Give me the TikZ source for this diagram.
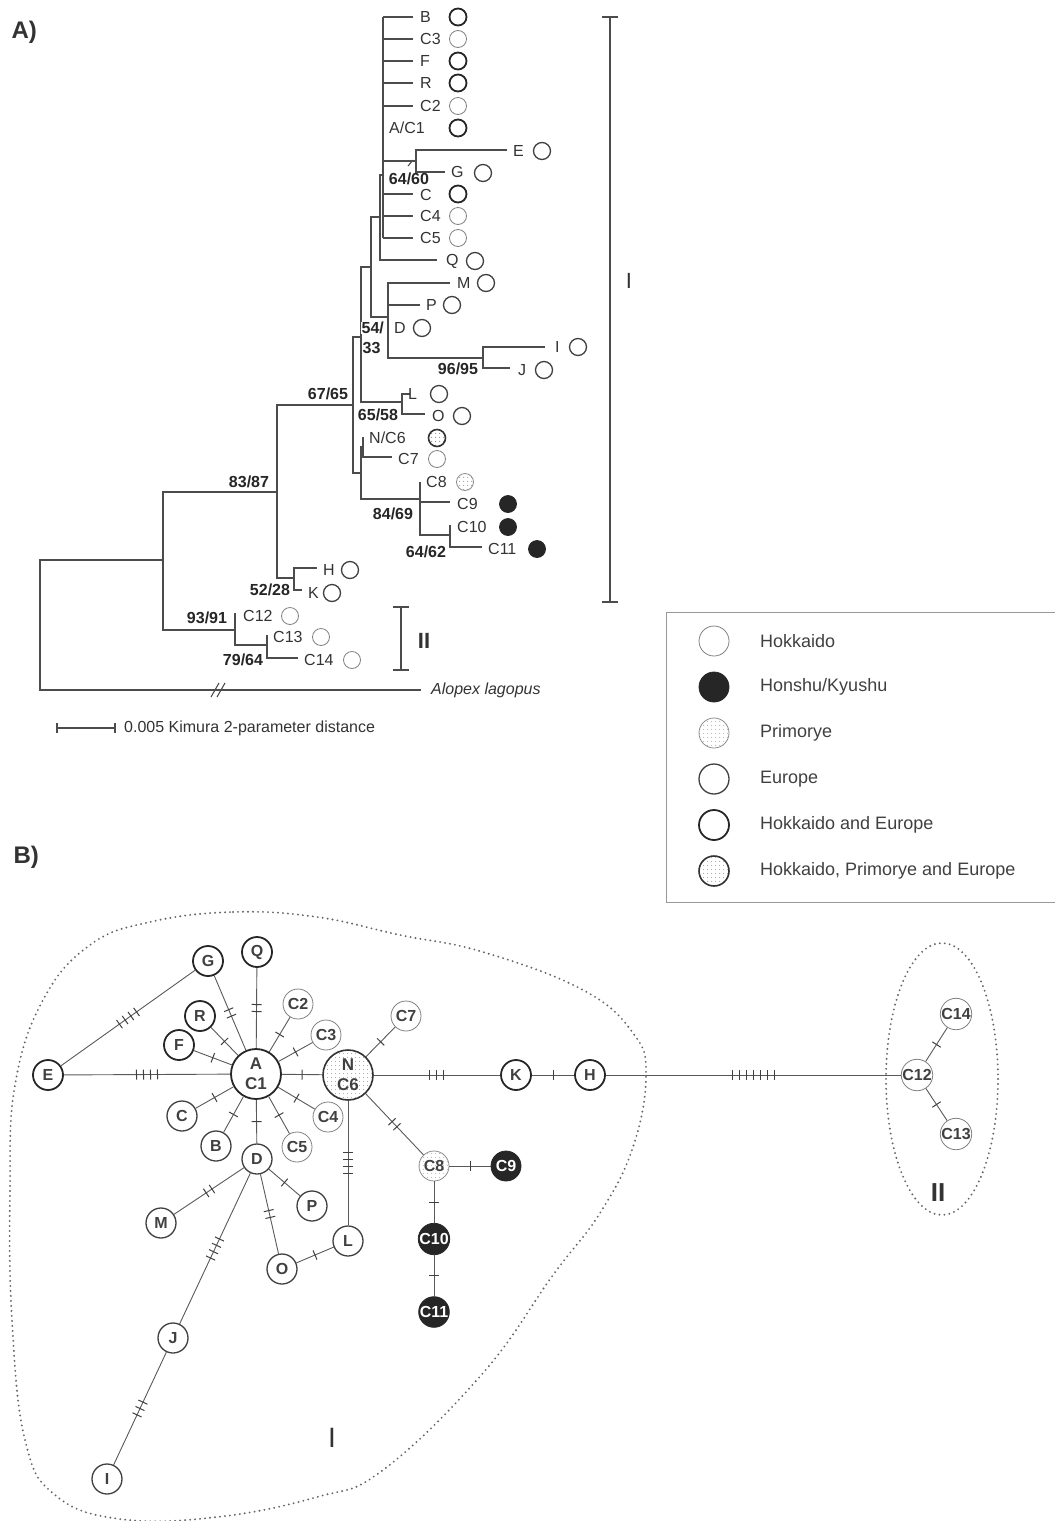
\documentclass[tikz,border=0pt]{standalone}
\usepackage{fontspec}
\setmainfont{Liberation Sans}
\usetikzlibrary{patterns.meta,decorations.markings}

\tikzset{
  br/.style={line width=1.1pt, draw=black!70},
  tiplab/.style={anchor=west, inner sep=0pt, text=black!80, font=\fontsize{16}{18}\selectfont},
  boot/.style={inner sep=1pt, fill=white, text=black!85, font=\fontsize{16}{18}\selectfont\bfseries},
  % regions
  hok/.style={circle, draw=black!50, line width=0.8pt},
  eur/.style={circle, draw=black!75, line width=1.3pt},
  hke/.style={circle, draw=black!85, line width=1.8pt},
  pri/.style={circle, draw=black!45, line width=0.8pt, pattern={Dots[distance=4pt, radius=0.6pt]}, pattern color=black!45},
  hpe/.style={circle, draw=black!80, line width=1.6pt, pattern={Dots[distance=4pt, radius=0.6pt]}, pattern color=black!55},
  hon/.style={circle, draw=black!85, fill=black!85, line width=0.8pt, text=white},
  tipc/.style={minimum size=17pt, inner sep=0pt},
  hap/.style={minimum size=30pt, inner sep=0pt, text=black!75, font=\fontsize{16}{16}\selectfont\bfseries},
  big/.style={minimum size=50pt, inner sep=0pt, align=center, text=black!75, font=\fontsize{17}{20}\selectfont\bfseries},
  leglab/.style={anchor=west, inner sep=0pt, text=black!75, font=\fontsize{18}{20}\selectfont},
  link/.style={line width=0.9pt, draw=black!65},
  muts/.style={postaction={decorate, decoration={markings, mark=at position 0.5 with {\foreach \k in {1,...,#1} {\draw[line width=1pt, black!75] ({(\k-(#1+1)/2)*7pt},-5pt) -- ++(0,10pt);}}}}},
  hull/.style={line width=2.1pt, black!60, line cap=round, dash pattern=on 0pt off 5pt}
}

\begin{document}
\begin{tikzpicture}[x=1pt, y=-1pt]
\useasboundingbox (0,0) rectangle (1055,1521);

% A) tree
\node[anchor=west, text=black!80, font=\fontsize{24}{24}\selectfont\bfseries] (panA) at (8,32) {A)};

\draw[br] (383,17) -- (383,238);
\foreach \y in {17,39,61,83,106,194,216,238} \draw[br] (383,\y) -- (413,\y);
\draw[br] (383,161) -- (416,161);
\draw[br] (507,150) -- (416,150) -- (416,172) -- (445,172);
\draw[br] (408,166) -- (413,160);
\draw[br] (383,175) -- (380,175) -- (380,260) -- (437,260);
\draw[br] (380,217) -| (371,317) -- (388,317);
\draw[br] (450,283) -- (388,283) -- (388,358) -- (483,358);
\draw[br] (388,305) -- (420,305);
\draw[br] (545,347) -- (483,347) -- (483,368) -- (510,368);
\draw[br] (371,267) -| (361,402) -- (402,402);
\draw[br] (410,394) -- (402,394) -- (402,414) -- (425,414);
\draw[br] (361,337) -| (353,473) -- (361,473);
\draw[br] (363,447) -- (361,447) -- (361,499) -- (420,499);
\draw[br] (363,437) -- (363,457) -- (392,457);
\draw[br] (420,482) -- (420,535) -- (450,535);
\draw[br] (420,502) -- (450,502);
\draw[br] (450,525) -- (450,547) -- (482,547);
\draw[br] (353,405) -| (277,578) -- (294,578);
\draw[br] (317,568) -- (294,568) -- (294,590) -- (302,590);
\draw[br] (277,492) -| (163,630) -- (235,630);
\draw[br] (235,613) -- (235,645) -- (267,645);
\draw[br] (267,635) -- (267,658) -- (298,658);
\draw[br] (163,560) -| (40,690) -- (421,690);
\draw[br] (211,697) -- (219,683) (217,697) -- (225,683);

% tips and regions
\foreach \n/\lx/\ly/\cx/\cy/\s in {B/420/17/458/17/hke, C3/420/39/458/39/hok, F/420/61/458/61/hke,
    R/420/83/458/83/hke, C2/420/106/458/106/hok, E/513/151/542/151/eur, G/451/172/483/173/eur,
    C/420/195/458/194/hke, C4/420/216/458/216/hok, C5/420/238/458/238/hok, Q/446/261/475/261/eur,
    M/457/283/486/283/eur, P/426/305/452/305/eur, D/394/328/422/328/eur, I/555/347/578/347/eur,
    J/518/370/544/370/eur, L/408/394/439/394/eur, O/432/416/462/416/eur, C7/398/459/437/459/hok,
    C8/426/482/465/482/pri, C9/457/504/508/504/hon, C10/457/527/508/527/hon, C11/488/549/537/549/hon,
    H/323/570/350/570/eur, K/308/593/332/593/eur, C12/243/616/290/616/hok, C13/273/637/321/637/hok,
    C14/304/660/352/660/hok}
{
  \node[tiplab] (t\n) at (\lx,\ly) {\n};
  \node[\s, tipc] (c\n) at (\cx,\cy) {};
}
\node[tiplab] (tAC1) at (389,128) {A/C1};
\node[hke, tipc] (cAC1) at (458,128) {};
\node[tiplab] (tNC6) at (369,438) {N/C6};
\node[hpe, tipc] (cNC6) at (437,438) {};
\node[tiplab, font=\fontsize{16}{18}\selectfont\itshape] (alo) at (431,690) {Alopex lagopus};

% bootstrap values
\node[boot, fill=none, inner sep=0pt] (b1) at (409,179) {64/60};
\node[boot, anchor=west, inner sep=0.5pt] (b2) at (361,328) {54/};
\node[boot, anchor=west, inner sep=0.5pt] (b3) at (362,348) {33};
\node[boot] (b4) at (458,369) {96/95};
\node[boot] (b5) at (328,394) {67/65};
\node[boot] (b6) at (378,415) {65/58};
\node[boot] (b7) at (393,514) {84/69};
\node[boot] (b8) at (426,552) {64/62};
\node[boot] (b9) at (249,482) {83/87};
\node[boot] (b10) at (270,590) {52/28};
\node[boot] (b11) at (207,618) {93/91};
\node[boot] (b12) at (243,660) {79/64};

% clade bars
\draw[br] (602,17) -- (618,17) (610,17) -- (610,602) (602,602) -- (618,602);
\node[text=black!80, font=\fontsize{22}{22}\selectfont] (clI) at (629,281) {I};
\draw[br] (393,607) -- (409,607) (401,607) -- (401,670) (393,670) -- (409,670);
\node[text=black!80, font=\fontsize{22}{22}\selectfont\bfseries] (clII) at (424,641) {II};

% scale
\draw[br] (57,723) -- (57,733) (57,728) -- (115,728) (115,723) -- (115,733);
\node[tiplab] (scl) at (124,728) {0.005 Kimura 2-parameter distance};

% legend
\draw[line width=0.8pt, black!40] (1062,612) -- (666,612) -- (666,902) -- (1062,902);
\node[hok, minimum size=30pt] (lg1) at (714,641) {};
\node[hon, minimum size=30pt] (lg2) at (714,687) {};
\node[pri, minimum size=30pt] (lg3) at (714,733) {};
\node[eur, minimum size=30pt] (lg4) at (714,779) {};
\node[hke, minimum size=30pt] (lg5) at (714,825) {};
\node[hpe, minimum size=30pt] (lg6) at (714,871) {};
\node[leglab] (lt1) at (760,641) {Hokkaido};
\node[leglab] (lt2) at (760,687) {Honshu/Kyushu};
\node[leglab] (lt3) at (760,733) {Primorye};
\node[leglab] (lt4) at (760,779) {Europe};
\node[leglab] (lt5) at (760,825) {Hokkaido and Europe};
\node[leglab] (lt6) at (760,871) {Hokkaido, Primorye and Europe};

% B) network
\node[anchor=west, text=black!80, font=\fontsize{24}{24}\selectfont\bfseries] (panB) at (10,857) {B)};

\draw[hull] plot[smooth cycle, tension=0.7] coordinates {(150,922) (233,912) (317,917) (400,935)
  (483,952) (583,990) (633,1033) (646,1075) (633,1147) (600,1213) (553,1275) (483,1373) (383,1470)
  (317,1497) (217,1517) (120,1519) (55,1495) (25,1440) (12,1320) (10,1190) (15,1085) (43,1000) (90,945)};
\draw[hull] (942,1079) ellipse [x radius=56, y radius=136];

\node[hke, big] (nA) at (256,1074) {A\\C1};
\node[hpe, big] (nN) at (348,1075) {N\\C6};
\foreach \n/\x/\y/\s in {E/48/1075/hke, G/208/961/hke, Q/257/952/hke, R/200/1016/hke, F/179/1045/hke,
    C2/298/1004/hok, C3/326/1035/hok, C4/328/1117/hok, C5/297/1147/hok, C/182/1116/eur, B/216/1146/eur,
    D/257/1159/eur, M/161/1223/eur, P/312/1206/eur, O/282/1269/eur, L/348/1241/eur, J/173/1338/eur,
    I/107/1479/eur, C7/406/1016/hok, K/516/1075/hke, H/590/1075/hke, C8/434/1166/pri, C9/506/1166/hon,
    C10/434/1239/hon, C11/434/1312/hon, C12/917/1075/hok, C13/956/1134/hok, C14/956/1014/hok}
  \node[hap, \s] (n\n) at (\x,\y) {\n};

\foreach \a/\b/\m in {nA/nE/4, nE/nG/4, nA/nG/2, nA/nQ/2, nA/nR/1, nA/nF/1, nA/nC2/1, nA/nC3/1,
    nA/nC4/1, nA/nC5/1, nA/nC/1, nA/nB/1, nA/nD/1, nA/nN/1, nN/nC7/1, nN/nK/3, nK/nH/1, nH/nC12/7,
    nN/nC8/2, nN/nL/4, nC8/nC9/1, nC8/nC10/1, nC10/nC11/1, nD/nM/2, nD/nP/1, nD/nO/2, nD/nJ/4,
    nO/nL/1, nJ/nI/3, nC12/nC14/1, nC12/nC13/1}
  \draw[link, muts=\m] (\a) -- (\b);

\node[text=black!80, font=\fontsize{28}{28}\selectfont] (grI) at (332,1438) {I};
\node[text=black!80, font=\fontsize{26}{26}\selectfont\bfseries] (grII) at (938,1193) {II};

\end{tikzpicture}
\end{document}
